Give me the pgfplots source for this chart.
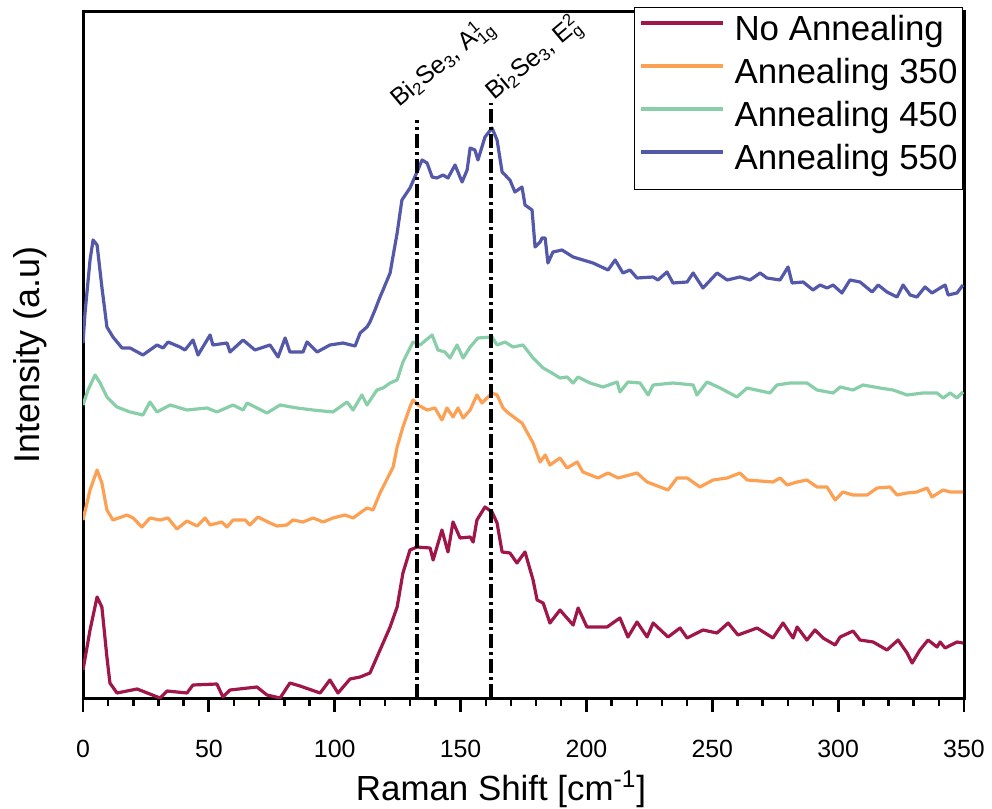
\documentclass[border=0pt]{standalone}
\usepackage{fontspec}
\setmainfont{Liberation Sans}
\usepackage{pgfplots}
\pgfplotsset{compat=1.18}

\definecolor{cNo}{RGB}{160,22,72}
\definecolor{cA}{RGB}{252,160,84}
\definecolor{cB}{RGB}{136,206,168}
\definecolor{cC}{RGB}{84,88,168}

\newcommand{\ssc}[1]{\mbox{\fontsize{8.5}{9}\selectfont #1}}

\begin{document}
\begin{tikzpicture}
\begin{axis}[
  scale only axis,
  width=440.5bp, height=343bp,
  xmin=0, xmax=350, ymin=0, ymax=686,
  axis line style={line width=1.5bp},
  xtick={0,50,...,350}, minor x tick num=4,
  ytick=\empty,
  xtick pos=bottom, tick align=outside,
  major tick length=7bp, minor tick length=4bp,
  major tick style={black, line width=1.4bp},
  minor tick style={black, line width=1.2bp},
  /pgf/number format/assume math mode=true,
  xticklabel shift=14bp,
  xticklabel style={font=\fontsize{12.5}{14}\selectfont, inner sep=0pt, anchor=north},
  xlabel={Raman Shift [cm\textsuperscript{-1}]},
  ylabel={Intensity (a.u)},
  xlabel style={font=\fontsize{17.5}{20}\selectfont, inner sep=0pt,
    at={(axis description cs:0.4745,0)}, anchor=base, yshift=-51bp},
  ylabel style={font=\fontsize{18}{20}\selectfont, inner sep=0pt,
    at={(axis description cs:-0.0499,0.5)}, anchor=base},
  legend cell align=left,
  legend image code/.code={\draw[#1, line width=1.6bp] (0bp,5.5bp) -- (41bp,5.5bp);},
  legend style={at={(axis description cs:0.999,1.0073)}, anchor=north east,
    draw=black, line width=0.6bp, fill=white, inner sep=2.5bp,
    font=\fontsize{17.5}{21.5}\selectfont,
    nodes={inner sep=0pt, text height=14bp, text depth=7.5bp},
    /tikz/every odd column/.append style={column sep=5bp}},
  every axis plot/.append style={line width=1.6bp, line join=round},
]
\coordinate (bl) at (rel axis cs:0,0);
\coordinate (tr) at (rel axis cs:1,1);

% No Annealing
\addplot[cNo] coordinates {
(0.0,28) (2.8,68) (5.6,101) (7.5,91) (9.5,41) (10.7,15) (13.5,5) (21.5,9)
(30.6,0) (33.4,7) (41.3,5) (43.7,13) (53.2,14) (55.6,1) (58.4,8) (69.1,11)
(73.1,3) (78.3,0) (82.2,15) (86.2,12) (94.2,5) (98.1,18) (101.3,5) (106.1,19)
(110.1,21) (114.0,25) (122.0,71) (124.8,91) (127.1,125) (129.9,148) (132.7,151)
(137.9,150) (139.1,138) (142.6,168) (145.0,146) (147.0,176) (149.8,160)
(153.8,161) (155.0,156) (156.5,178) (159.7,191) (162.5,186) (164.5,175)
(166.5,146) (169.6,145) (172.4,135) (175.6,146) (178.8,118) (180.4,98)
(182.8,95) (185.5,75) (189.5,88) (194.7,73) (196.7,90) (200.2,71) (208.2,71)
(213.3,80) (216.5,61) (220.1,76) (224.1,61) (226.5,75) (232.4,61) (237.2,70)
(240.0,60) (246.3,68) (251.9,65) (256.3,75) (260.2,63) (267.8,70) (274.1,60)
(278.1,75) (282.1,60) (283.7,71) (287.6,58) (290.8,68) (294.0,60) (298.8,53)
(300.8,61) (305.9,67) (308.7,58) (313.9,56) (319.4,48) (323.8,58) (327.4,45)
(329.4,35) (332.5,48) (335.7,58) (339.3,51) (340.5,56) (342.5,50) (347.2,56)
(349.6,55)};
\addlegendentry{No Annealing}

% Annealing 350
\addplot[cA] coordinates {
(0.0,178) (2.8,208) (5.6,228) (7.5,215) (9.5,188) (11.9,178) (17.5,183)
(19.9,180) (23.4,171) (26.6,180) (30.6,178) (33.8,180) (37.3,169) (41.3,177)
(45.3,172) (48.5,180) (50.5,173) (55.2,176) (57.2,171) (59.6,178) (64.4,178)
(66.3,173) (69.5,181) (74.3,175) (77.1,172) (81.0,173) (83.4,178) (87.4,176)
(91.4,180) (95.4,176) (99.3,180) (104.1,183) (107.3,180) (112.8,190)
(115.2,188) (118.0,205) (123.2,231) (124.8,251) (127.1,271) (129.9,291)
(131.1,298) (133.1,293) (136.7,288) (139.8,290) (142.6,278) (144.6,290)
(147.0,281) (149.0,290) (151.0,280) (153.8,288) (156.5,303) (158.5,295)
(162.5,305) (164.5,303) (166.9,290) (168.5,286) (171.6,280) (174.4,275)
(178.8,255) (181.6,236) (183.6,243) (185.5,233) (189.5,240) (192.3,230)
(196.3,236) (198.6,226) (204.6,220) (208.6,225) (212.6,220) (220.1,225)
(224.1,216) (232.4,208) (236.0,220) (240.0,220) (245.1,211) (250.3,218)
(255.9,220) (261.0,225) (263.8,218) (274.1,216) (276.9,220) (279.7,213)
(283.7,216) (287.6,218) (291.6,211) (295.6,211) (298.8,198) (301.9,206)
(305.9,203) (311.5,203) (315.5,210) (320.6,211) (323.4,203) (327.4,205)
(331.3,206) (335.3,210) (337.3,201) (341.7,208) (344.5,206) (349.6,206)};
\addlegendentry{Annealing 350}

% Annealing 450
\addplot[cB] coordinates {
(0.0,293) (2.0,308) (4.8,323) (6.8,315) (9.5,301) (13.5,291) (18.7,286)
(23.8,283) (26.6,296) (29.4,286) (34.6,293) (41.3,288) (49.3,290) (53.2,286)
(59.6,293) (63.6,288) (65.2,295) (73.1,285) (78.3,293) (85.0,290) (91.4,288)
(99.3,286) (104.9,296) (107.3,288) (110.8,303) (112.8,293) (116.8,308)
(119.2,310) (122.0,315) (124.8,318) (127.1,336) (131.1,356) (133.9,353)
(138.7,363) (141.0,348) (143.8,346) (145.8,340) (148.6,353) (151.0,340)
(153.8,351) (156.9,360) (162.5,361) (164.5,353) (167.7,356) (170.8,351)
(174.8,353) (178.8,340) (182.8,330) (186.3,325) (189.5,320) (192.3,321)
(194.7,315) (196.7,321) (201.4,315) (206.6,311) (212.2,316) (213.3,306)
(216.5,316) (221.3,315) (224.5,303) (226.5,313) (234.4,315) (242.4,313)
(243.9,303) (247.9,316) (253.1,310) (259.8,301) (263.8,310) (272.9,305)
(275.7,313) (280.9,315) (287.6,315) (291.6,308) (298.0,305) (300.8,311)
(305.9,308) (309.9,313) (316.6,310) (321.8,308) (327.4,303) (333.7,305)
(339.3,305) (341.7,300) (344.5,305) (347.2,300) (349.6,306)};
\addlegendentry{Annealing 450}

% Annealing 550
\addplot[cC] coordinates {
(0.0,355) (0.8,385) (2.8,438) (4.0,458) (5.6,453) (7.5,411) (9.5,371)
(11.9,361) (15.5,350) (18.7,350) (23.8,343) (29.4,353) (31.8,350) (33.8,356)
(38.5,351) (40.5,348) (43.7,358) (45.7,343) (50.5,363) (51.6,353) (57.2,355)
(58.4,346) (63.6,358) (68.3,348) (74.3,353) (77.5,341) (80.3,360) (82.2,346)
(87.4,346) (89.0,356) (93.0,346) (98.1,353) (103.3,355) (108.1,352)
(110.1,365) (112.8,371) (114.0,376) (116.0,388) (118.0,401) (119.2,408)
(122.0,425) (124.8,465) (126.7,498) (129.9,510) (132.7,526) (134.7,538)
(136.7,535) (138.7,521) (140.6,520) (143.0,523) (145.0,520) (147.8,533)
(150.6,516) (152.6,528) (153.8,550) (155.7,548) (156.9,538) (159.7,561)
(162.5,570) (164.5,558) (166.5,526) (169.6,518) (171.6,506) (174.4,511)
(175.6,493) (178.4,488) (179.6,451) (181.6,456) (182.4,460) (183.6,460)
(184.7,435) (186.7,446) (190.3,448) (194.7,441) (202.6,435) (208.6,428)
(211.4,438) (214.5,425) (217.3,428) (220.1,420) (226.5,421) (228.4,418)
(232.0,426) (234.4,415) (240.0,416) (242.4,425) (246.3,410) (251.9,425)
(255.9,418) (261.0,421) (265.0,418) (269.0,425) (271.7,420) (276.9,418)
(280.1,431) (281.7,415) (286.1,416) (290.0,408) (292.8,413) (295.6,410)
(298.0,413) (301.5,405) (304.7,418) (308.7,416) (313.5,406) (315.9,413)
(319.4,406) (323.4,401) (325.8,413) (328.6,403) (331.3,401) (334.5,411)
(337.3,405) (340.5,410) (342.5,413) (343.7,403) (347.2,405) (349.6,413)};
\addlegendentry{Annealing 550}

% peak markers
\addplot[black, line width=2bp, dash pattern=on 7bp off 2bp on 1.5bp off 2bp, forget plot]
  coordinates {(132.5,0) (132.5,578)};
\addplot[black, line width=2bp, dash pattern=on 7bp off 2bp on 1.5bp off 2bp, forget plot]
  coordinates {(162.0,0) (162.0,595)};

\node[rotate=40, anchor=base west, inner sep=0pt, font=\fontsize{12.5}{13}\selectfont]
  at (axis cs:125.6,590) {Bi$_{\ssc{2}}$Se$_{\ssc{3}}$, A$^{\ssc{1}}_{\ssc{1g}}$};
\node[rotate=40, anchor=base west, inner sep=0pt, font=\fontsize{12.5}{13}\selectfont]
  at (axis cs:163.3,597) {Bi$_{\ssc{2}}$Se$_{\ssc{3}}$, E$^{\ssc{2}}_{\ssc{g}}$};
\end{axis}
\path (bl) ++(-41.5bp,-55.5bp) (tr) ++(14bp,6bp);
\end{tikzpicture}
\end{document}
